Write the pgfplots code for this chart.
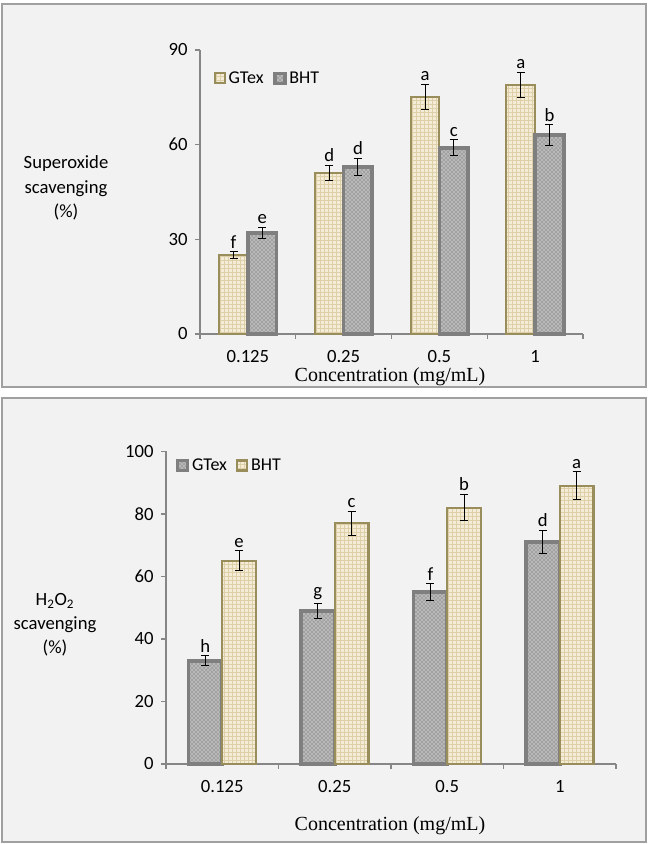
\documentclass[border=0pt]{standalone}
\usepackage{pgfplots}
\pgfplotsset{compat=1.18}
\usepackage{pgfplotstable}
\usetikzlibrary{patterns}
\usepackage{fontspec}
\setmainfont{Carlito}
\newfontfamily\timesf{Liberation Serif}
\definecolor{panelbg}{HTML}{F2F2F2}
\definecolor{panelborder}{HTML}{A0A0A0}
\definecolor{axisgray}{HTML}{868686}
\definecolor{tanfill}{HTML}{F4ECD6}
\definecolor{tangrid}{HTML}{DDD0A8}
\definecolor{tanborder}{HTML}{998E5B}
\definecolor{grayfill}{HTML}{B8B8B8}
\definecolor{grayspeck}{HTML}{5A5A5A}
\definecolor{grayborder}{HTML}{7F7F7F}

\pgfplotstableread{
x gt gterr gtl bht bhterr bhtl
0 25 1.1 f 32 1.7 e
1 51 2.5 d 53 2.7 d
2 75 4.0 a 59 2.5 c
3 79 4.0 a 63 3.3 b
}\topdata

\pgfplotstableread{
x gt gterr gtl bht bhterr bhtl
0 33 1.6 h 65 3.2 e
1 49 2.5 g 77 3.8 c
2 55 2.7 f 82 4.2 b
3 71 3.7 d 89 4.5 a
}\botdata

\pgfplotsset{
  tanbar/.style={draw=tanborder, line width=1.6pt, preaction={fill=tanfill}, pattern=grid, pattern color=tangrid},
  graybar/.style={draw=grayborder, line width=2.8pt, preaction={fill=grayfill}, pattern=crosshatch dots, pattern color=grayspeck},
  myaxis/.style={
    scale only axis, clip=false,
    xmin=-0.5, xmax=3.5, ymin=0,
    axis x line*=bottom, axis y line*=left,
    axis line style={axisgray, line width=0.8pt},
    tick align=outside,
    xtick={0,1,2,3}, xticklabels={0.125,0.25,0.5,1},
    major x tick style={draw=none},
    minor xtick={-0.5,0.5,1.5,2.5,3.5},
    minor tick length=3.75pt, major tick length=3.75pt,
    tick style={axisgray, line width=0.8pt},
    ytick style={axisgray, line width=0.8pt},
    tick label style={font=\fontsize{14}{16}\selectfont, black},
    xticklabel style={yshift=-5pt},
    yticklabel style={xshift=-2pt},
    /pgf/number format/assume math mode=true,
    ybar=0pt, bar width=0.3,
    legend cell align=left,
    legend image code/.code={\draw[##1] (0pt,-3.75pt) rectangle (7.5pt,3.75pt);},
    nodes near coords style={font=\fontsize{14}{16}\selectfont, black, anchor=south, inner sep=2.5pt},
    error bars/error bar style={black, line width=0.75pt},
    error bars/error mark options={rotate=90, black, line width=0.75pt, mark size=3pt},
  },
}

\begin{document}
\begin{tikzpicture}
\fill[white] (0pt,0pt) rectangle (487.5pt,633pt);
\draw[panelborder, line width=1.2pt, fill=panelbg] (1.5pt,342.75pt) rectangle (484.5pt,630pt);
\draw[panelborder, line width=1.2pt, fill=panelbg] (1.5pt,1.5pt) rectangle (484.5pt,334.5pt);

\node[align=center, font=\fontsize{14}{18.5}\selectfont] at (49.5pt,492pt) {Superoxide\\scavenging\\(\%)};
\node[align=center, font=\fontsize{14}{18}\selectfont] at (41.25pt,164.25pt) {H\textsubscript{2}O\textsubscript{2}\\scavenging\\(\%)};
\node[font=\timesf\fontsize{15}{17}\selectfont] at (292.5pt,350.25pt) {Concentration (mg/mL)};
\node[font=\timesf\fontsize{15}{17}\selectfont] at (292.5pt,13.5pt) {Concentration (mg/mL)};

\begin{axis}[myaxis,
  at={(150pt,382.5pt)}, anchor=south west,
  width=287.25pt, height=213pt,
  ymax=90, ytick={0,30,60,90},
  legend style={at={(0.025,0.90)}, anchor=west, draw=none, fill=none, legend columns=2,
    font=\fontsize{13.5}{15}\selectfont, /tikz/every even column/.append style={column sep=5pt}},
]
\addplot[tanbar, bar shift=-0.15, error bars/.cd, y dir=both, y explicit]
  table[x=x, y=gt, y error=gterr] {\topdata};
\addlegendentry{GTex}
\addplot[graybar, bar shift=0.15, error bars/.cd, y dir=both, y explicit]
  table[x=x, y=bht, y error=bhterr] {\topdata};
\addlegendentry{BHT}
\addplot[draw=none, fill=none, bar shift=-0.15, forget plot, nodes near coords, point meta=explicit symbolic]
  table[x=x, y expr=\thisrow{gt}+\thisrow{gterr}, meta=gtl] {\topdata};
\addplot[draw=none, fill=none, bar shift=0.15, forget plot, nodes near coords, point meta=explicit symbolic]
  table[x=x, y expr=\thisrow{bht}+\thisrow{bhterr}, meta=bhtl] {\topdata};
\end{axis}

\begin{axis}[myaxis,
  at={(124.5pt,60pt)}, anchor=south west,
  width=337.5pt, height=234.375pt,
  ymax=100, ytick={0,20,40,60,80,100},
  legend style={at={(0.012,0.955)}, anchor=west, draw=none, fill=none, legend columns=2,
    font=\fontsize{13.5}{15}\selectfont, /tikz/every even column/.append style={column sep=5pt}},
]
\addplot[graybar, bar shift=-0.15, error bars/.cd, y dir=both, y explicit]
  table[x=x, y=gt, y error=gterr] {\botdata};
\addlegendentry{GTex}
\addplot[tanbar, bar shift=0.15, error bars/.cd, y dir=both, y explicit]
  table[x=x, y=bht, y error=bhterr] {\botdata};
\addlegendentry{BHT}
\addplot[draw=none, fill=none, bar shift=-0.15, forget plot, nodes near coords, point meta=explicit symbolic]
  table[x=x, y expr=\thisrow{gt}+\thisrow{gterr}, meta=gtl] {\botdata};
\addplot[draw=none, fill=none, bar shift=0.15, forget plot, nodes near coords, point meta=explicit symbolic]
  table[x=x, y expr=\thisrow{bht}+\thisrow{bhterr}, meta=bhtl] {\botdata};
\end{axis}
\end{tikzpicture}
\end{document}
